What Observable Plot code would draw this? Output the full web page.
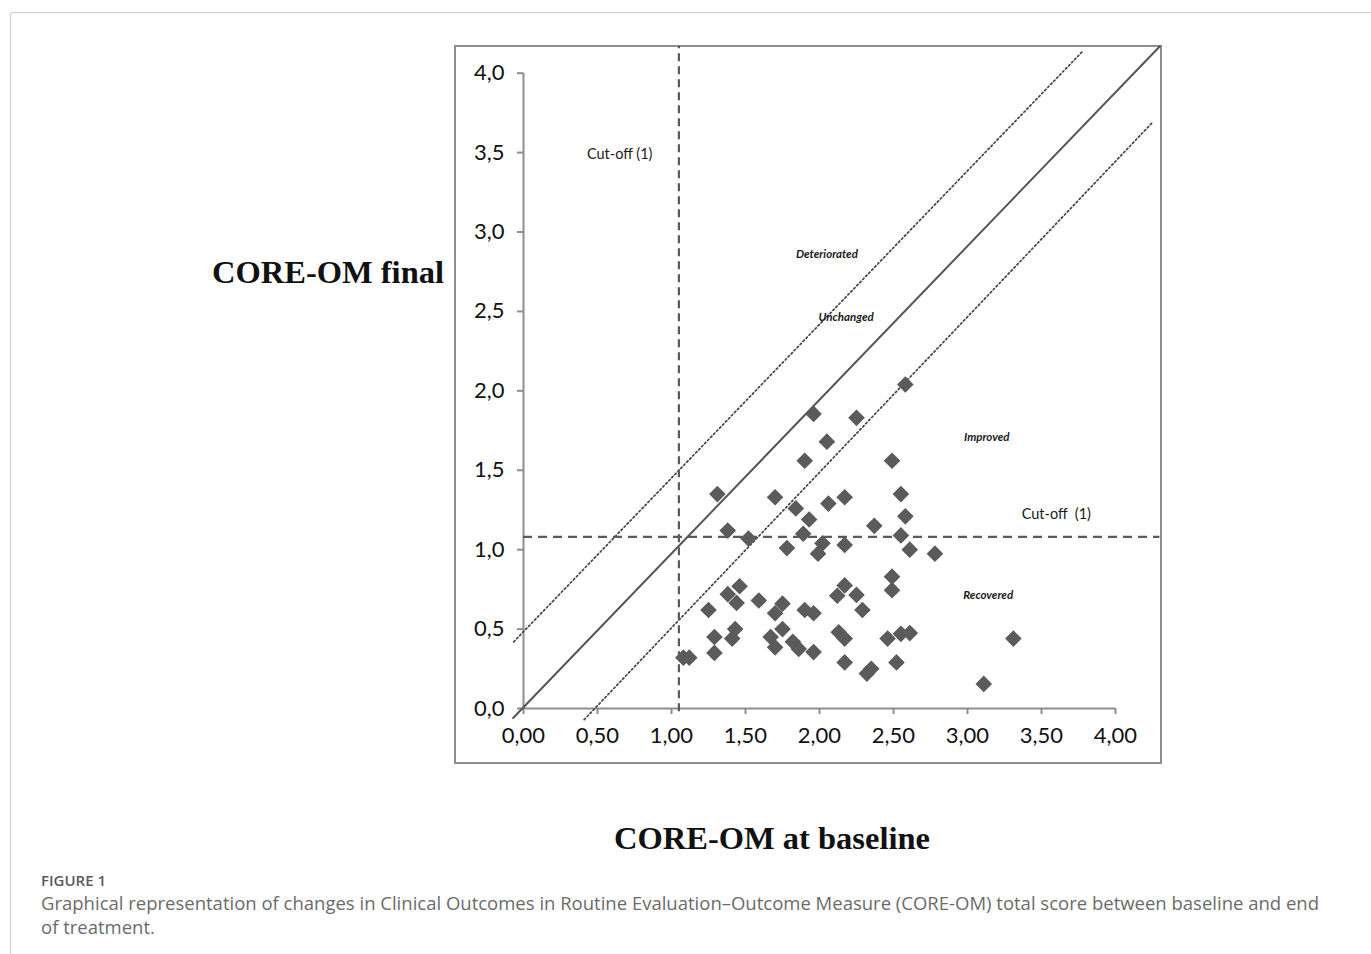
<!DOCTYPE html>
<html><head><meta charset="utf-8">
<script src="https://cdn.jsdelivr.net/npm/d3@7"></script>
<script src="https://cdn.jsdelivr.net/npm/@observablehq/plot@0.6"></script>
<style>
body{margin:0;background:#fff;width:1371px;height:954px;overflow:hidden;position:relative;font-family:"Open Sans",sans-serif;}
#frame{position:absolute;left:10px;top:12px;width:1400px;height:1000px;border-top:1.5px solid #cdcdcd;border-left:1.5px solid #cdcdcd;border-top-left-radius:3px;}
#box{position:absolute;left:454px;top:45px;width:704px;height:715px;border:2px solid #8e8e8e;}
#box svg{display:block;overflow:visible;}
.axtitle{position:absolute;font-family:"Liberation Serif","Times New Roman",serif;font-weight:bold;font-size:32.5px;line-height:1;color:#111;white-space:nowrap;transform:translateY(-50%);}
#ytitle{right:927px;top:272px;}
#xtitle{left:772px;top:838px;transform:translate(-50%,-50%);}
#fig{position:absolute;left:41px;top:870px;font-size:15px;line-height:20px;font-weight:600;color:#5a5a5a;}
#cap{position:absolute;left:41px;top:891px;font-size:18.5px;line-height:24px;color:#6b6b6b;white-space:nowrap;}
</style>
</head><body>
<div id="frame"></div>
<div id="ytitle" class="axtitle">CORE-OM final</div>
<div id="box"></div>
<div id="xtitle" class="axtitle">CORE-OM at baseline</div>
<div id="fig">FIGURE 1</div>
<div id="cap">Graphical representation of changes in Clinical Outcomes in Routine Evaluation–Outcome Measure (CORE-OM) total score between baseline and end<br>of treatment.</div>
<script>
// CORE-OM scores per patient
const baseline = [1.08,1.12,1.38,1.52,1.89,1.78,2.02,1.99,2.17,1.46,1.38,1.44,1.25,1.59,1.75,1.70,1.90,1.96,2.17,2.12,2.25,2.29,1.29,1.43,1.41,1.29,1.67,1.70,1.75,1.82,1.86,1.96,2.13,2.17,2.17,2.32,2.35,2.55,2.61,2.78,2.49,2.49,2.46,2.55,2.61,2.52,3.31,3.11,2.58,2.25,2.49,2.55,2.17,2.58,2.37,1.96,2.05,1.90,1.31,1.70,1.84,1.93,2.06];
const final =    [0.32,0.32,1.12,1.07,1.10,1.01,1.04,0.975,1.03,0.77,0.72,0.665,0.62,0.68,0.66,0.60,0.62,0.60,0.775,0.71,0.715,0.62,0.45,0.50,0.44,0.35,0.45,0.385,0.50,0.42,0.375,0.355,0.48,0.44,0.29,0.22,0.25,1.09,1.00,0.975,0.83,0.745,0.44,0.47,0.475,0.29,0.44,0.155,2.04,1.83,1.56,1.35,1.33,1.21,1.15,1.855,1.68,1.56,1.35,1.33,1.26,1.19,1.29];

const xTicks = [0,0.5,1,1.5,2,2.5,3,3.5,4];
const xTickLabels = ["0,00","0,50","1,00","1,50","2,00","2,50","3,00","3,50","4,00"];
const yTicks = [0,0.5,1,1.5,2,2.5,3,3.5,4];
const yTickLabels = ["0,0","0,5","1,0","1,5","2,0","2,5","3,0","3,5","4,0"];

// reference lines (endpoints as drawn)
const identityX = [-0.07,4.30], identityY = [-0.06,4.17];
const upperX = [-0.066,3.78], upperY = [0.42,4.14];
const lowerX = [0.41,4.25], lowerY = [-0.07,3.69];
const cutoffX = 1.05, cutoffY = 1.08;
const cutoffXSpan = [-0.02,4.17];
const cutoffYSpan = [0,4.30];

const zoneLabels = ["Deteriorated","Unchanged","Improved","Recovered"];
const zoneX = [2.05,2.18,3.13,3.14];
const zoneY = [2.86,2.46,1.71,0.71];
const cutLabels = ["Cut-off (1)","Cut-off\u00a0 (1)"];
const cutLabelX = [0.65,3.60];
const cutLabelY = [3.49,1.22];

const pts = baseline.map((b,i)=>({x:b,y:final[i]}));
const seg = (xs,ys)=>xs.map((x,i)=>({x,y:ys[i]}));

const grey = "#8e8e8e", dark = "#555555";
const chart = Plot.plot({
  width:704, height:715,
  marginLeft:67, marginRight:45, marginTop:25.7, marginBottom:54,
  x:{domain:[0,4]}, y:{domain:[0,4]},
  style:{fontFamily:"Lato, 'Open Sans', sans-serif", background:"transparent", overflow:"visible"},
  marks:[
    Plot.axisX({ticks:xTicks, tickFormat:d=>xTickLabels[xTicks.indexOf(d)], tickSize:6, tickPadding:13, fontSize:22, stroke:grey, strokeWidth:2, fill:"#111", label:null}),
    Plot.axisY({ticks:yTicks, tickFormat:d=>yTickLabels[yTicks.indexOf(d)], tickSize:6, tickPadding:13, fontSize:22, stroke:grey, strokeWidth:2, fill:"#111", label:null}),
    Plot.ruleY([0], {x1:0, x2:4, stroke:grey, strokeWidth:2}),
    Plot.ruleX([0], {y1:0, y2:4, stroke:grey, strokeWidth:2}),
    Plot.line(seg(identityX,identityY), {x:"x", y:"y", stroke:dark, strokeWidth:2}),
    Plot.line(seg(upperX,upperY), {x:"x", y:"y", stroke:"#444", strokeWidth:1.7, strokeDasharray:"1.7,2.6"}),
    Plot.line(seg(lowerX,lowerY), {x:"x", y:"y", stroke:"#444", strokeWidth:1.7, strokeDasharray:"1.7,2.6"}),
    Plot.ruleX([cutoffX], {y1:cutoffXSpan[0], y2:cutoffXSpan[1], stroke:"#5a5a5a", strokeWidth:2.2, strokeDasharray:"8,5"}),
    Plot.ruleY([cutoffY], {x1:cutoffYSpan[0], x2:cutoffYSpan[1], stroke:"#5a5a5a", strokeWidth:2.2, strokeDasharray:"9,6"}),
    Plot.dot(pts, {x:"x", y:"y", symbol:"diamond2", r:7.5, fill:"#5b5b5b", stroke:"none"}),
    Plot.text(zoneLabels, {x:(d,i)=>zoneX[i], y:(d,i)=>zoneY[i], text:d=>d, fontSize:11.5, fontStyle:"italic", fontWeight:"bold", fill:"#1a1a1a"}),
    Plot.text(cutLabels, {x:(d,i)=>cutLabelX[i], y:(d,i)=>cutLabelY[i], text:d=>d, fontSize:14.5, fill:"#1a1a1a"})
  ]
});
document.getElementById("box").appendChild(chart);
</script>
</body></html>
